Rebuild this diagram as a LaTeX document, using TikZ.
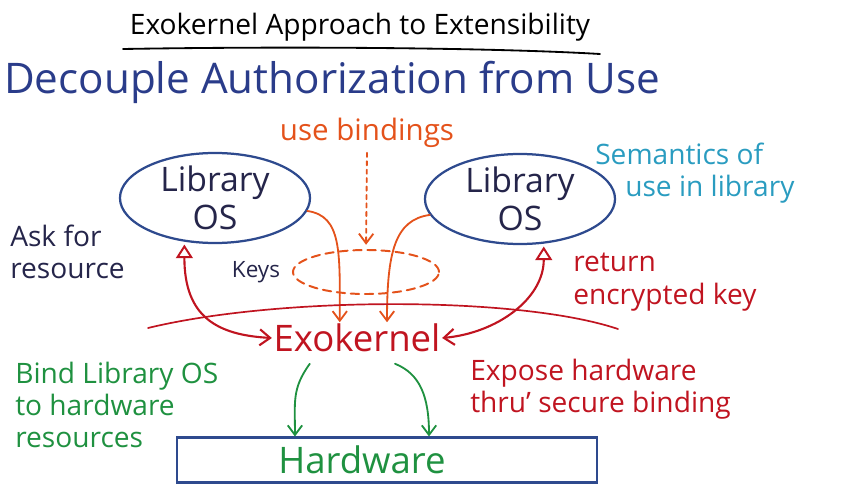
\documentclass[tikz,border=0pt]{standalone}
\usepackage{fontspec}
\setmainfont{Open Sans}
\usepackage{tikz}
\usetikzlibrary{arrows.meta,positioning,shapes.geometric}
\definecolor{navy}{HTML}{2E4A8E}
\definecolor{inkblue}{HTML}{2A3C8A}
\definecolor{inkdark}{HTML}{25254A}
\definecolor{orng}{HTML}{E4521B}
\definecolor{inkred}{HTML}{C01420}
\definecolor{inkgreen}{HTML}{1F9140}
\definecolor{semteal}{HTML}{2A9CC0}
\newcommand{\hand}[2]{\fontsize{#1}{#2}\selectfont}

\begin{document}
\begin{tikzpicture}[x=0.025cm, y=-0.025cm, line cap=round,
  libos/.style={draw=navy, line width=1.6pt, ellipse, minimum width=4.75cm, minimum height=2.25cm, inner xsep=0pt, inner ysep=-7pt, align=center, text=inkdark, font=\hand{24}{27}},
  keyring/.style={draw=orng, line width=1.4pt, dash pattern=on 6pt off 4pt, ellipse, minimum width=3.65cm, minimum height=1.1cm},
  hwbox/.style={draw=navy, line width=1.6pt, minimum width=10.5cm, minimum height=1.12cm, text=inkgreen, font=\hand{26}{28}},
  note/.style={align=left, anchor=west, inner sep=0pt, font=\hand{20}{23}},
  arr/.style={-{Straight Barb[length=2.4mm,width=3.6mm]}, line width=1.3pt},
  dbl/.style={{Triangle[open,length=3.4mm,width=4.2mm,line width=1.4pt]}-{Straight Barb[length=2.6mm,width=4mm]}, line width=1.5pt}]
  \useasboundingbox (0,0) rectangle (844,493);
  \node[font=\hand{20}{22}] (title) at (360,27) {Exokernel Approach to Extensibility};
  \draw[line width=1.3pt] (123,49) .. controls (300,46) and (500,48) .. (600,54);
  \node[font=\hand{30}{32}, text=inkblue] (decouple) at (332,82) {Decouple Authorization from Use};
  \node[libos] (libL) at (215,198) {Library\\OS};
  \node[libos] (libR) at (520,199) {Library\\OS};
  \node[font=\hand{21}{23}, text=orng] (bind) at (367,133) {use bindings};
  \node[keyring] (keys) at (366,272) {};
  \node[font=\hand{16}{18}, text=inkdark] (keylbl) at (256,272) {Keys};
  \node[font=\hand{26}{28}, text=inkred, inner sep=1pt] (exo) at (357,338) {Exokernel};
  \node[hwbox] (hw) at (387,460) {\hspace*{-1.25cm}Hardware};
  \node[note, text=inkdark] (ask) at (10,252) {Ask for\\resource};
  \node[note, text=semteal] (sem) at (595,173) {Semantics of\\\hspace*{0.75cm}use in library};
  \node[note, text=inkred] (ret) at (573,282) {return\\encrypted key};
  \node[note, text=inkgreen] (bindhw) at (15,405) {Bind Library OS\\to hardware\\resources};
  \node[note, text=inkred] (expose) at (470,389) {Expose hardware\\thru' secure binding};
  % bindings and keys
  \draw[arr, orng, dashed, shorten >=3pt] (bind.south) -- (keys.north);
  \draw[arr, orng] (libL.-8) .. controls +(35,5) and +(0,-70) .. ([xshift=-0.43cm]exo.north);
  \draw[arr, orng] (libR.190) .. controls +(-35,5) and +(0,-70) .. ([xshift=0.75cm]exo.north);
  % exokernel boundary and requests
  \draw[inkred, line width=1.2pt] (148,328) .. controls (280,296) and (520,296) .. (618,329);
  \draw[dbl, inkred, shorten <=2pt] (libL.235) .. controls +(0,75) and +(-55,-3) .. (exo.west);
  \draw[dbl, inkred, shorten <=2pt] (libR.-62) .. controls +(0,55) and +(55,-5) .. (exo.east);
  % down to hardware
  \draw[arr, inkgreen] ([xshift=-1.18cm,yshift=-0.25cm]exo.south) .. controls +(-18,25) and +(0,-35) .. ([xshift=-2.3cm]hw.north);
  \draw[arr, inkgreen] ([xshift=0.95cm,yshift=-0.25cm]exo.south) .. controls +(25,10) and +(0,-40) .. ([xshift=1.05cm]hw.north);
\end{tikzpicture}
\end{document}
